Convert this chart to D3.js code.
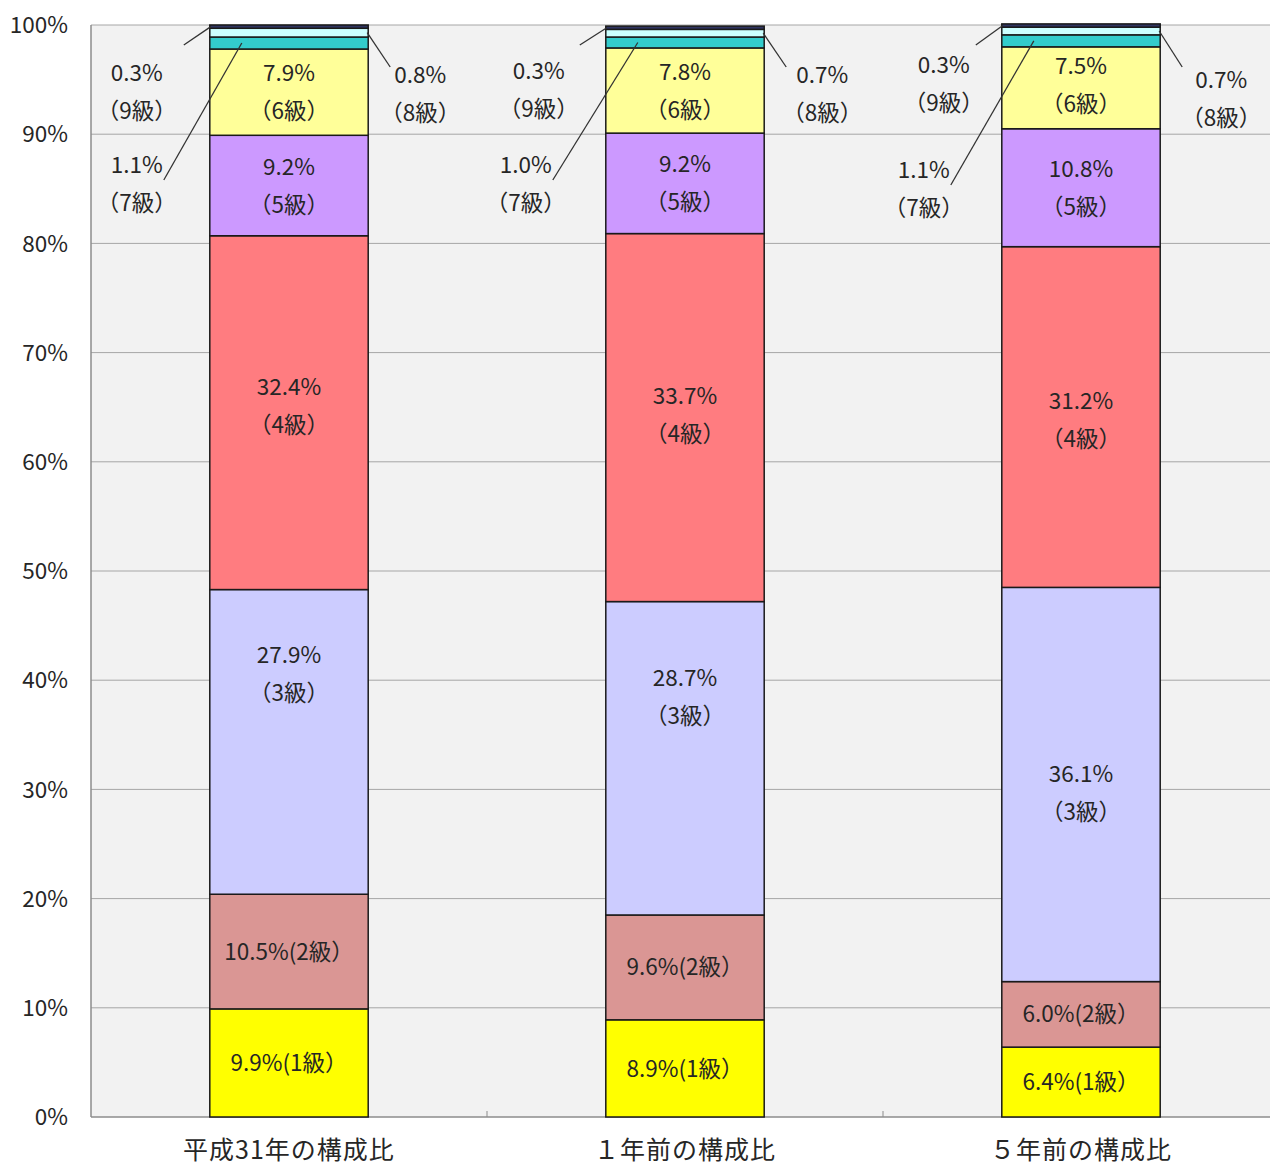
<!DOCTYPE html>
<html><head><meta charset="utf-8">
<script src="https://cdn.jsdelivr.net/npm/d3@7"></script>
<style>body{margin:0;background:#fff}svg{display:block}text{font-family:"Noto Sans CJK JP","Noto Sans",sans-serif;fill:#262626}</style>
</head><body><svg id="c" width="1270" height="1169"></svg>
<script>
const categories = ["平成31年の構成比","１年前の構成比","５年前の構成比"];
const grades = ["1級","2級","3級","4級","5級","6級","7級","8級","9級"];
const series = {
  "1級":[9.9,8.9,6.4],
  "2級":[10.5,9.6,6.0],
  "3級":[27.9,28.7,36.1],
  "4級":[32.4,33.7,31.2],
  "5級":[9.2,9.2,10.8],
  "6級":[7.9,7.8,7.5],
  "7級":[1.1,1.0,1.1],
  "8級":[0.8,0.7,0.7],
  "9級":[0.3,0.3,0.3]
};
const colors = ["#FFFF00","#DA9694","#CCCCFF","#FF7C80","#CC99FF","#FFFF99","#33CCCC","#CCFFFF","#2F3460"];
const yTicks = [0,10,20,30,40,50,60,70,80,90,100];
// label nudges (in % units) for inside labels that are not centred
const labelNudge = {"3級":[6.2,5.6,-0.8],"4級":[0.6,0.2,-0.3],"5級":[0,0,0],"6級":[0,0,0.3]};

const svg = d3.select("#c");
const L = 91, B = 1117, T = 25, band = 396;
const FS = 22.5;
const x = d3.scaleBand().domain(categories).range([L, L + band*3]).paddingInner(0.6).paddingOuter(0.3);
const y = d3.scaleLinear().domain([0,100]).range([B, T]);

svg.append("rect").attr("x",L).attr("y",T).attr("width",band*3).attr("height",B-T).attr("fill","#F2F2F2");
svg.append("g").selectAll("line").data(yTicks.filter(d=>d>0)).join("line")
  .attr("x1",L).attr("x2",L+band*3).attr("y1",d=>y(d)).attr("y2",d=>y(d))
  .attr("stroke","#A6A6A6").attr("stroke-width",1);
svg.append("line").attr("x1",L).attr("x2",L).attr("y1",T).attr("y2",B).attr("stroke","#8C8C8C").attr("stroke-width",1.5);
svg.append("line").attr("x1",L).attr("x2",L+band*3).attr("y1",B).attr("y2",B).attr("stroke","#8C8C8C").attr("stroke-width",1.5);
[1,2].forEach(i=>svg.append("line").attr("x1",L+band*i).attr("x2",L+band*i).attr("y1",B).attr("y2",B-6).attr("stroke","#8C8C8C"));
svg.append("g").selectAll("text").data(yTicks).join("text")
  .attr("x",68).attr("y",d=>y(d)).attr("dy","0.36em").attr("text-anchor","end")
  .attr("font-size",FS).text(d=>d+"%");
svg.append("g").selectAll("text").data(categories).join("text")
  .attr("x",d=>x(d)+x.bandwidth()/2).attr("y",1159).attr("text-anchor","middle")
  .attr("font-size",25).attr("letter-spacing",1).text(d=>d);

const rows = categories.map((c,i)=>{const o={cat:c}; grades.forEach(g=>o[g]=series[g][i]); return o;});
const stacked = d3.stack().keys(grades)(rows);
const gBars = svg.append("g");
stacked.forEach((layer,k)=>{
  gBars.selectAll(null).data(layer).join("rect")
    .attr("x",d=>x(d.data.cat)).attr("width",x.bandwidth())
    .attr("y",d=>y(d[1])).attr("height",d=>y(d[0])-y(d[1]))
    .attr("fill",colors[k]).attr("stroke","#1a1a1a").attr("stroke-width",1.5);
});

const lab = svg.append("g");
stacked.forEach((layer,k)=>{
  const gname = grades[k];
  if (k>=6) return;
  layer.forEach((d,i)=>{
    const v = series[gname][i];
    const cx = x(d.data.cat)+x.bandwidth()/2;
    const nud = (labelNudge[gname]||[0,0,0])[i];
    const cy = y((d[0]+d[1])/2 + nud);
    if (k<2) {
      lab.append("text").attr("x",cx).attr("y",cy).attr("dy","0.36em").attr("text-anchor","middle")
        .attr("font-size",FS).text(v.toFixed(1)+"%("+gname+"）");
    } else {
      lab.append("text").attr("x",cx).attr("y",cy-19).attr("dy","0.36em").attr("text-anchor","middle")
        .attr("font-size",FS).text(v.toFixed(1)+"%");
      lab.append("text").attr("x",cx).attr("y",cy+19).attr("dy","0.36em").attr("text-anchor","middle")
        .attr("font-size",FS).text("（"+gname+"）");
    }
  });
});

const out = svg.append("g");
const outPos = [
  {g9:[-73,48],g8:[52,50],g7:[-73,140]},
  {g9:[-67,46],g8:[58,50],g7:[-80,140]},
  {g9:[-58,40],g8:[61,55],g7:[-78,145]}
];
categories.forEach((c,i)=>{
  const x0 = x(c), x1 = x(c)+x.bandwidth();
  const s9 = stacked[8][i], s8 = stacked[7][i], s7 = stacked[6][i];
  const p = outPos[i];
  function two(cx, cy, v, g){
    out.append("text").attr("x",cx).attr("y",cy).attr("dy","0.36em").attr("text-anchor","middle").attr("font-size",FS).text(v.toFixed(1)+"%");
    out.append("text").attr("x",cx).attr("y",cy+38).attr("dy","0.36em").attr("text-anchor","middle").attr("font-size",FS).text("（"+g+"）");
  }
  const t9x = x0+p.g9[0], t9y = T+p.g9[1];
  two(t9x, t9y, series["9級"][i], "9級");
  out.append("line").attr("x1",x0+1).attr("y1",y((s9[0]+s9[1])/2)).attr("x2",x0-26).attr("y2",T+20).attr("stroke","#333").attr("stroke-width",1.3);
  const t8x = x1+p.g8[0], t8y = T+p.g8[1];
  two(t8x, t8y, series["8級"][i], "8級");
  out.append("line").attr("x1",x1-1).attr("y1",y((s8[0]+s8[1])/2)).attr("x2",x1+22).attr("y2",T+42).attr("stroke","#333").attr("stroke-width",1.3);
  const t7x = x0+p.g7[0], t7y = T+p.g7[1];
  two(t7x, t7y, series["7級"][i], "7級");
  out.append("line").attr("x1",x0+32).attr("y1",y((s7[0]+s7[1])/2)).attr("x2",t7x+27).attr("y2",t7y+15).attr("stroke","#333").attr("stroke-width",1.3);
});
</script></body></html>
